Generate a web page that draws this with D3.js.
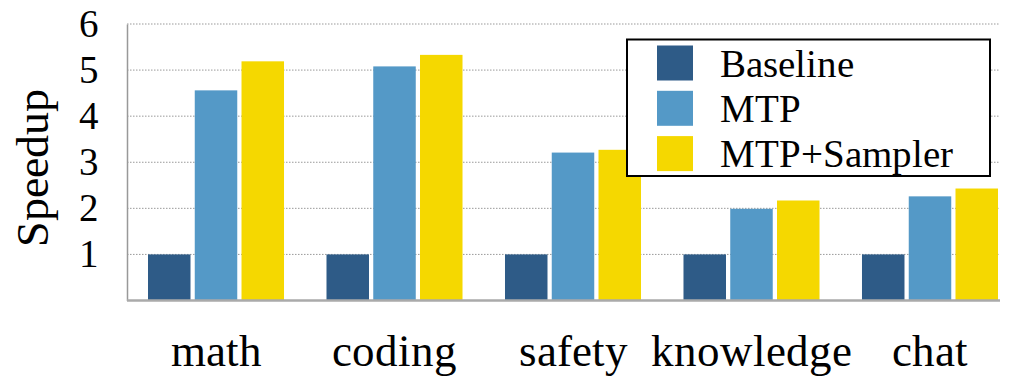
<!DOCTYPE html>
<html>
<head>
<meta charset="utf-8">
<script src="https://cdn.jsdelivr.net/npm/d3@7"></script>
<style>
  @font-face { font-family: 'ChartSerif'; src: local('Liberation Serif'), local('LiberationSerif'), local('Liberation Serif Regular'); }
  body { margin: 0; background: #fff; }
  svg text { font-family: 'ChartSerif', 'Times New Roman', 'Liberation Serif', serif !important; }
</style>
</head>
<body>
<div class="speedupChart"></div>
<script>
// chart data
let categories = ['math', 'coding', 'safety', 'knowledge', 'chat'];
let seriesNames = ['Baseline', 'MTP', 'MTP+Sampler'];
let baseline = [1, 1, 1, 1, 1];
let mtp = [4.56, 5.08, 3.21, 1.99, 2.26];
let mtpSampler = [5.19, 5.33, 3.27, 2.17, 2.43];
let yTicks = [1, 2, 3, 4, 5, 6];

let colors = ['#2e5b87', '#5499c7', '#f5d800'];
let textFont = "'Times New Roman', 'Liberation Serif', serif";

function drawSpeedupChart(d3) {
  let width = 1024;
  let height = 387;
  let margin = { top: 24, bottom: 86.5, right: 24, left: 127 };

  let svg = d3.select('.speedupChart')
    .append('svg')
    .attr('width', width)
    .attr('height', height);

  let series = [baseline, mtp, mtpSampler];
  let rows = categories.map(function(c, i) {
    return { cat: c, values: series.map(function(s) { return s[i]; }) };
  });

  // groups sit a bit in from the axes
  let x0 = d3.scaleBand()
    .domain(categories)
    .range([148, 998])
    .paddingInner(0.238)
    .paddingOuter(0);

  let x1 = d3.scaleBand()
    .domain(seriesNames)
    .range([0, x0.bandwidth()])
    .paddingInner(0.091);

  let y = d3.scaleLinear()
    .domain([0, 6])
    .range([height - margin.bottom, margin.top]);

  // dotted grid lines
  svg.append('g')
    .selectAll('line')
    .data(yTicks)
    .enter().append('line')
    .attr('x1', margin.left)
    .attr('x2', width - margin.right)
    .attr('y1', function(d) { return y(d); })
    .attr('y2', function(d) { return y(d); })
    .attr('stroke', '#999')
    .attr('stroke-width', 1)
    .attr('stroke-dasharray', '1.5,1.5');

  // bars
  let groups = svg.append('g')
    .selectAll('g')
    .data(rows)
    .enter().append('g')
    .attr('transform', function(d) { return 'translate(' + x0(d.cat) + ',0)'; });

  groups.selectAll('rect')
    .data(function(d) { return d.values.map(function(v, k) { return { name: seriesNames[k], v: v, k: k }; }); })
    .enter().append('rect')
    .attr('x', function(d) { return x1(d.name); })
    .attr('width', x1.bandwidth())
    .attr('y', function(d) { return y(d.v); })
    .attr('height', function(d) { return y(0) - y(d.v); })
    .attr('fill', function(d) { return colors[d.k]; });

  // y axis
  let yAxis = svg.append('g')
    .attr('transform', 'translate(' + margin.left + ',0)')
    .call(d3.axisLeft(y).tickValues(yTicks).tickSize(0).tickPadding(28).tickFormat(d3.format('d')))
    .attr('font-family', null)
    .attr('font-size', null);
  yAxis.select('.domain').attr('stroke', '#999').attr('stroke-width', 1.5);
  yAxis.selectAll('text').attr('fill', '#000')
    .style('font', '39px ' + textFont);

  // x axis
  let xAxis = svg.append('g')
    .attr('transform', 'translate(0,' + y(0) + ')')
    .call(d3.axisBottom(x0).tickSize(0).tickPadding(34))
    .attr('font-family', null)
    .attr('font-size', null);
  xAxis.select('.domain').attr('stroke', '#aaa').attr('stroke-width', 2.5)
    .attr('d', 'M' + margin.left + ',0H' + (width - margin.right));
  xAxis.selectAll('text').attr('fill', '#000')
    .style('font', '45px ' + textFont);

  // axis title
  svg.append('text')
    .attr('transform', 'translate(48,' + (margin.top + (y(0) - margin.top) / 2 + 6) + ') rotate(-90)')
    .attr('text-anchor', 'middle')
    .style('font', '46px ' + textFont)
    .text('Speedup');

  // legend
  let legend = svg.append('g').attr('transform', 'translate(627,39.5)');
  legend.append('rect')
    .attr('width', 363)
    .attr('height', 136.5)
    .attr('fill', '#fff')
    .attr('stroke', '#000')
    .attr('stroke-width', 2);

  let items = legend.selectAll('.item')
    .data(seriesNames)
    .enter().append('g')
    .attr('class', 'item')
    .attr('transform', function(d, i) { return 'translate(30,' + (6 + i * 45.3) + ')'; });

  items.append('rect')
    .attr('width', 36)
    .attr('height', 35)
    .attr('fill', function(d, i) { return colors[i]; });

  items.append('text')
    .attr('x', 63)
    .attr('y', 31)
    .style('font', '39px ' + textFont)
    .text(function(d) { return d; });
}

drawSpeedupChart(d3);
</script>
</body>
</html>
